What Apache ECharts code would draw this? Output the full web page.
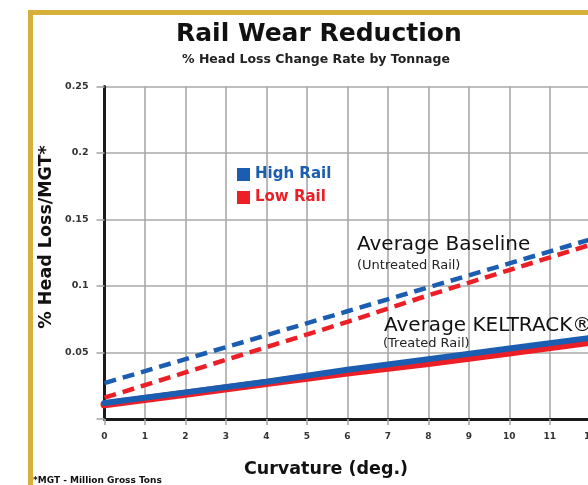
<!DOCTYPE html>
<html>
<head>
<meta charset="utf-8">
<script src="https://cdn.jsdelivr.net/npm/echarts@6/dist/echarts.min.js"></script>
<style>
html,body{margin:0;padding:0;overflow:hidden;background:#fff;width:588px;height:485px}
#chart{width:640px;height:485px}
</style>
</head>
<body>
<div id="chart"></div>
<script>
// Curvature (deg.) sample points
const curvature = [0, 2, 4, 6, 8, 10, 12, 13];
// Average Baseline (Untreated Rail)
const highRailBaseline = [0.027, 0.045, 0.063, 0.081, 0.099, 0.117, 0.135, 0.144];
const lowRailBaseline  = [0.016, 0.035, 0.054, 0.073, 0.093, 0.112, 0.131, 0.141];
// Average KELTRACK (Treated Rail)
const highRailTreated  = [0.012, 0.020, 0.028, 0.037, 0.045, 0.053, 0.061, 0.066];
const lowRailTreated   = [0.011, 0.019, 0.027, 0.035, 0.042, 0.050, 0.058, 0.062];
// tick labels
const yTickLabels = ['', '0.05', '0.1', '0.15', '0.2', '0.25'];
const xTickLabels = ['0','1','2','3','4','5','6','7','8','9','10','11','12','13'];

const BLUE = '#1b5db0';
const RED = '#ec1f27';
const GOLD = '#d5b13a';
const FONT = '"DejaVu Sans", sans-serif';

const pairs = arr => curvature.map((c, i) => [c, arr[i]]);

const chart = echarts.init(document.getElementById('chart'), null, {renderer: 'canvas'});
chart.setOption({
  animation: false,
  backgroundColor: '#fff',
  title: [
    {text: 'Rail Wear Reduction', left: 176, top: 22, padding: 0,
     textStyle: {fontFamily: FONT, fontWeight: 'bold', fontSize: 25, color: '#111'}},
    {text: '% Head Loss Change Rate by Tonnage', left: 182, top: 53.5, padding: 0,
     textStyle: {fontFamily: FONT, fontWeight: 'bold', fontSize: 12.5, color: '#222'}}
  ],
  legend: {
    orient: 'vertical', left: 237, top: 167, padding: 0,
    itemWidth: 13, itemHeight: 13, itemGap: 8,
    selectedMode: false,
    textStyle: {fontFamily: FONT, fontWeight: 'bold', fontSize: 15},
    data: [
      {name: 'High Rail', icon: 'rect', textStyle: {color: BLUE}},
      {name: 'Low Rail', icon: 'rect', textStyle: {color: RED}}
    ]
  },
  grid: {left: 104.5, right: 5, top: 86.5, bottom: 66, containLabel: false},
  xAxis: {
    type: 'value', min: 0, max: 13, interval: 1,
    axisLine: {show: true, onZero: false, lineStyle: {color: '#1a1a1a', width: 3}},
    axisTick: {show: true, length: 6, lineStyle: {color: '#a9a9a9', width: 1.6}},
    splitLine: {show: true, lineStyle: {color: '#a9a9a9', width: 1.6}},
    axisLabel: {margin: 13, fontFamily: FONT, fontWeight: 'bold', fontSize: 9, color: '#333',
      formatter: (v) => xTickLabels[Math.round(v)]}
  },
  yAxis: {
    type: 'value', min: 0, max: 0.25, interval: 0.05,
    axisLine: {show: true, lineStyle: {color: '#1a1a1a', width: 3}},
    axisTick: {show: true, length: 8, lineStyle: {color: '#a9a9a9', width: 1.6}},
    splitLine: {show: true, lineStyle: {color: '#a9a9a9', width: 1.6}},
    axisLabel: {margin: 16, fontFamily: FONT, fontWeight: 'bold', fontSize: 9.5, color: '#333',
      formatter: (v) => yTickLabels[Math.round(v / 0.05)]}
  },
  series: [
    {name: 'Low Rail', type: 'line', data: pairs(lowRailBaseline), symbol: 'none', clip: false,
     color: RED, lineStyle: {color: RED, width: 4.5, type: [12, 7]}, z: 3},
    {name: 'High Rail', type: 'line', data: pairs(highRailBaseline), symbol: 'none', clip: false,
     color: BLUE, lineStyle: {color: BLUE, width: 4.5, type: [12, 7]}, z: 3},
    {name: 'Low Rail', type: 'line', data: pairs(lowRailTreated), symbol: 'none', clip: false,
     color: RED, lineStyle: {color: RED, width: 8, cap: 'round'}, z: 4},
    {name: 'High Rail', type: 'line', data: pairs(highRailTreated), symbol: 'none', clip: false,
     color: BLUE, lineStyle: {color: BLUE, width: 6, cap: 'round'}, z: 5}
  ],
  graphic: [
    {type: 'rect', shape: {x: 28, y: 10, width: 620, height: 5}, style: {fill: GOLD}, silent: true},
    {type: 'rect', shape: {x: 28, y: 10, width: 5, height: 480}, style: {fill: GOLD}, silent: true},
    {type: 'text', x: 46, y: 237, rotation: Math.PI / 2,
     style: {text: '% Head Loss/MGT*', font: 'bold 17.5px ' + FONT, fill: '#111', align: 'center', verticalAlign: 'middle'}},
    {type: 'text', x: 326, y: 460,
     style: {text: 'Curvature (deg.)', font: 'bold 17.5px ' + FONT, fill: '#111', align: 'center', verticalAlign: 'top'}},
    {type: 'text', x: 357, y: 235, z: 10,
     style: {text: 'Average Baseline', font: '20px ' + FONT, fill: '#111', align: 'left', verticalAlign: 'top'}},
    {type: 'text', x: 357, y: 259, z: 10,
     style: {text: '(Untreated Rail)', font: '13px ' + FONT, fill: '#222', align: 'left', verticalAlign: 'top'}},
    {type: 'text', x: 384, y: 316, z: 10,
     style: {text: 'Average KELTRACK®', font: '20px ' + FONT, fill: '#111', align: 'left', verticalAlign: 'top'}},
    {type: 'text', x: 383, y: 337, z: 10,
     style: {text: '(Treated Rail)', font: '13px ' + FONT, fill: '#222', align: 'left', verticalAlign: 'top'}},
    {type: 'text', x: 33, y: 476,
     style: {text: '*MGT - Million Gross Tons', font: 'bold 9px ' + FONT, fill: '#111', align: 'left', verticalAlign: 'top'}}
  ]
});
</script>
</body>
</html>
